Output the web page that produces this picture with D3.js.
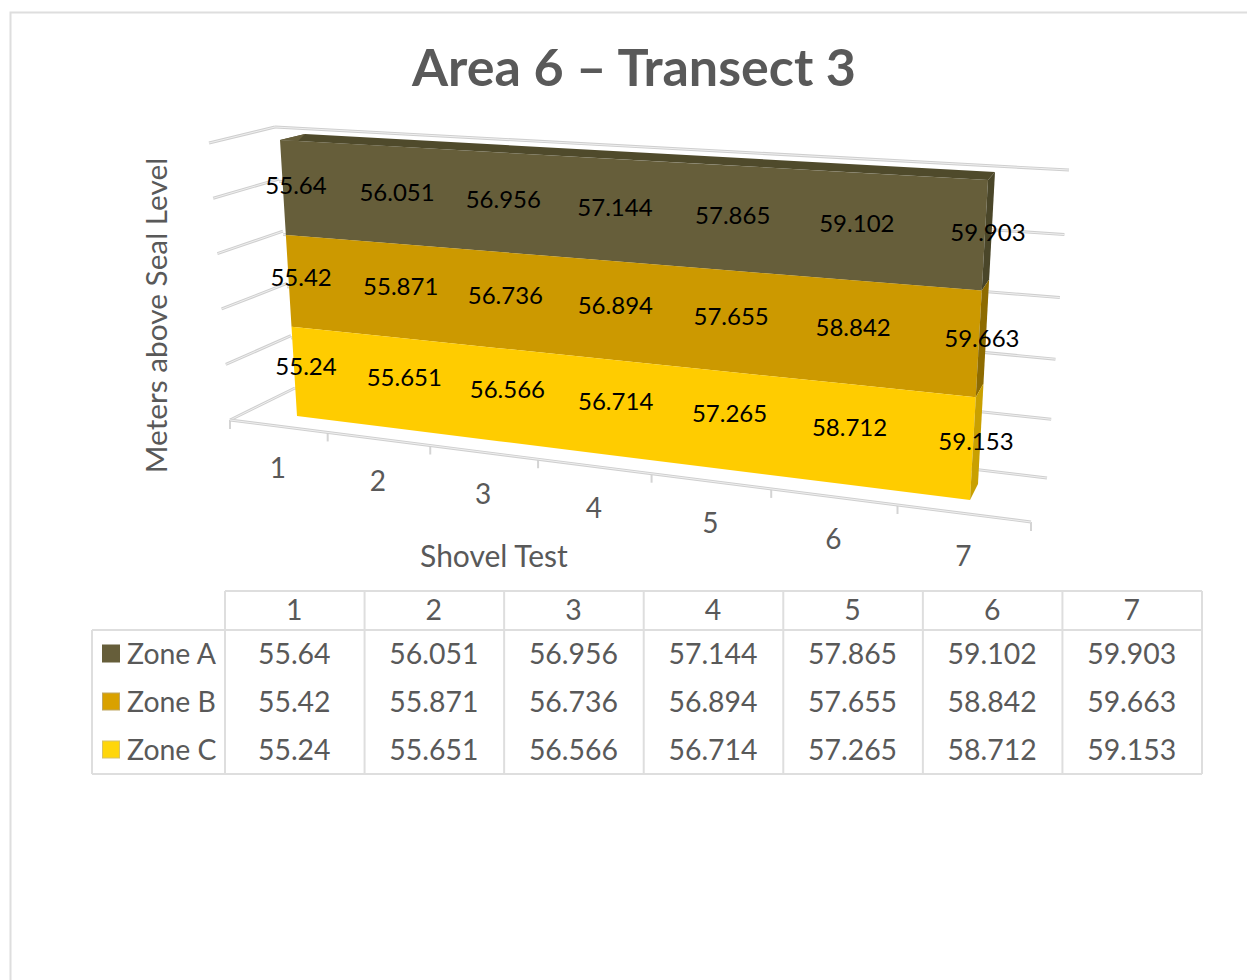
<!DOCTYPE html>
<html>
<head>
<meta charset="utf-8">
<style>
html,body{margin:0;padding:0;background:#fff;overflow:hidden}
svg{display:block}
text{font-family:Lato,"Open Sans",sans-serif}
</style>
<script src="https://cdn.jsdelivr.net/npm/d3@7/dist/d3.min.js"></script>
</head>
<body>
<svg id="chart" width="1247" height="980"></svg>
<script>
const chartTitle = "Area 6 – Transect 3";
const xTitle = "Shovel Test";
const yTitle = "Meters above Seal Level";
const categories = ["1","2","3","4","5","6","7"];
const zoneA = [55.64, 56.051, 56.956, 57.144, 57.865, 59.102, 59.903];
const zoneB = [55.42, 55.871, 56.736, 56.894, 57.655, 58.842, 59.663];
const zoneC = [55.24, 55.651, 56.566, 56.714, 57.265, 58.712, 59.153];
const seriesNames = ["Zone A","Zone B","Zone C"];
const seriesValues = [zoneA, zoneB, zoneC];
const seriesColors = ["#665E3A","#CC9900","#FFCC00"];
const sideColors = ["#4A4629","#8E6B00","#C9A000"];
const legendColors = ["#665E3A","#D9A100","#FFD60A"];
const legendStrokes = ["#665E3A","#BFA765","#D6C26A"];
const gridLevels = [0,1,2,3,4,5];
const grey = "#595959", rule = "#DEDEDE";

// perspective plane: maps the unit square onto a quadrilateral (bl, br, tr, tl)
function plane(p0,p1,p2,p3){
  const dx1=p1[0]-p2[0],dx2=p3[0]-p2[0],sx=p0[0]-p1[0]+p2[0]-p3[0];
  const dy1=p1[1]-p2[1],dy2=p3[1]-p2[1],sy=p0[1]-p1[1]+p2[1]-p3[1];
  const den=dx1*dy2-dx2*dy1;
  const g=(sx*dy2-dx2*sy)/den,h=(dx1*sy-sx*dy1)/den;
  const a=p1[0]-p0[0]+g*p1[0],b=p3[0]-p0[0]+h*p3[0],c=p0[0];
  const d=p1[1]-p0[1]+g*p1[1],e=p3[1]-p0[1]+h*p3[1],f=p0[1];
  return (u,v)=>{const w=g*u+h*v+1;return [(a*u+b*v+c)/w,(d*u+e*v+f)/w];};
}
const frontFace = plane([297,416],[970,500],[988,180],[280,140]);
const rearFace  = plane([320,404],[978,484],[995,172],[305,134]);
const backWall  = plane([295,388],[1047,478],[1069,170],[275,127]);
const sideWall  = plane([230,420],[295,388],[275,127],[209,143]);
const labelFace = plane([306,367],[976,442],[988,233],[296,186]);

const u = d3.scalePoint().domain(d3.range(categories.length)).range([0,1]);
const level = d3.scaleLinear().domain([0,seriesNames.length]).range([0,1]);
const grid = d3.scaleLinear().domain([0,5]).range([0,1]);
const labelLevel = d3.scaleLinear().domain([0,seriesNames.length-1]).range([1,0]);

// floor axis with foreshortening
const axisT = d3.scaleLinear().domain([0,categories.length]).range([0,1]);
const warp = t=>t/(t+1.2*(1-t));
const axisX = d3.scaleLinear().domain([0,1]).range([230,1031]);
const axisY = d3.scaleLinear().domain([0,1]).range([420,522]);
const axisPt = i=>{const w=warp(axisT(i));return [axisX(w),axisY(w)];};

const svg = d3.select("#chart");

// frame
svg.append("path").attr("d","M10.5,980V12.5H1247").attr("fill","none").attr("stroke",rule).attr("stroke-width",2);

// title
svg.append("text").text(chartTitle).attr("x",634).attr("y",86).attr("text-anchor","middle")
  .attr("font-size",52).attr("font-weight",700).attr("fill",grey);

// walls
function ruleLine(g,a,b,w){
  g.append("line").attr("x1",a[0]).attr("y1",a[1]).attr("x2",b[0]).attr("y2",b[1]).attr("stroke","#CFCFCF").attr("stroke-width",w||3);
  g.append("line").attr("x1",a[0]).attr("y1",a[1]).attr("x2",b[0]).attr("y2",b[1]).attr("stroke","#EFEFEF").attr("stroke-width",1);
}
const walls = svg.append("g");
gridLevels.forEach(l=>{
  const v=grid(l);
  ruleLine(walls,sideWall(0,v),sideWall(1,v));
  ruleLine(walls,backWall(0,v),backWall(1,v));
});
const axisG = svg.append("g");
d3.range(categories.length+1).forEach(i=>{
  const p=axisPt(i);
  axisG.append("line").attr("x1",p[0]).attr("y1",p[1]).attr("x2",p[0]).attr("y2",p[1]+9).attr("stroke","#D4D4D4").attr("stroke-width",2);
});
ruleLine(axisG,axisPt(0),axisPt(categories.length));

// solid bands, bottom band is the last series
const bands = svg.append("g");
const bandArea = d3.area()
  .x0(d=>frontFace(u(d.i),level(d.lo))[0]).y0(d=>frontFace(u(d.i),level(d.lo))[1])
  .x1(d=>frontFace(u(d.i),level(d.hi))[0]).y1(d=>frontFace(u(d.i),level(d.hi))[1]);
const n = seriesNames.length;
seriesNames.forEach((name,s)=>{
  const lo=n-1-s, hi=n-s;
  const pts=categories.map((c,i)=>({i,lo,hi}));
  bands.append("path").attr("d",bandArea(pts)).attr("fill",seriesColors[s]);
  const last=categories.length-1, e=u(last);
  const side=[frontFace(e,level(lo)),rearFace(e,level(lo)),rearFace(e,level(hi)),frontFace(e,level(hi))];
  bands.append("path").attr("d",d3.line()(side)+"Z").attr("fill",sideColors[s]);
});
const topFace=[frontFace(0,1),rearFace(0,1),rearFace(1,1),frontFace(1,1)];
bands.append("path").attr("d",d3.line()(topFace)+"Z").attr("fill","#4F4A2B");
// the short left end of the top face catches the same light as the front
const topEnd=[frontFace(0,1),rearFace(0,1),frontFace(0.03,1)];
bands.append("path").attr("d",d3.line()(topEnd)+"Z").attr("fill",seriesColors[0]);

// value labels
const labels = svg.append("g").attr("font-size",24).attr("fill","#000").attr("text-anchor","middle");
seriesValues.forEach((vals,s)=>{
  vals.forEach((val,i)=>{
    const p=labelFace(u(i),labelLevel(s));
    labels.append("text").text(String(val)).attr("x",p[0]).attr("y",p[1]+8);
  });
});

// axis text
const ticks = svg.append("g").attr("font-size",28).attr("fill",grey).attr("text-anchor","middle");
categories.forEach((c,i)=>{
  const a=axisPt(i),b=axisPt(i+1);
  ticks.append("text").text(c).attr("x",(a[0]+b[0])/2-1).attr("y",(a[1]+b[1])/2+52);
});
svg.append("text").text(xTitle).attr("x",494).attr("y",567).attr("text-anchor","middle").attr("font-size",30).attr("fill",grey);
svg.append("text").text(yTitle).attr("transform","translate(167,315.5) rotate(-90)").attr("text-anchor","middle").attr("font-size",29.8).attr("fill",grey);

// data table
const col = d3.scaleBand().domain(categories).range([225,1202]);
const row = d3.scaleBand().domain(seriesNames).range([630,774]);
const table = svg.append("g");
const hl=(x1,x2,y)=>table.append("line").attr("x1",x1).attr("x2",x2).attr("y1",y).attr("y2",y).attr("stroke",rule).attr("stroke-width",2);
const vl=(x,y1,y2)=>table.append("line").attr("x1",x).attr("x2",x).attr("y1",y1).attr("y2",y2).attr("stroke",rule).attr("stroke-width",2);
hl(225,1202,591); hl(92,1202,630); hl(92,1202,774);
vl(92,630,774);
categories.forEach(c=>vl(col(c),591,774));
vl(1202,591,774);
const cell = table.append("g").attr("font-size",28.4).attr("fill",grey);
categories.forEach((c,i)=>{
  const cx=col(c)+col.bandwidth()/2-0.5;
  cell.append("text").text(c).attr("x",cx).attr("y",620).attr("text-anchor","middle");
  seriesNames.forEach((name,s)=>{
    cell.append("text").text(String(seriesValues[s][i])).attr("x",cx).attr("y",row(name)+row.bandwidth()/2+10).attr("text-anchor","middle");
  });
});
seriesNames.forEach((name,s)=>{
  const cy=row(name)+row.bandwidth()/2;
  table.append("rect").attr("x",102.5).attr("y",cy-9).attr("width",17).attr("height",17)
    .attr("fill",legendColors[s]).attr("stroke",legendStrokes[s]).attr("stroke-width",1);
  cell.append("text").text(name).attr("x",127).attr("y",cy+10);
});
</script>
</body>
</html>
